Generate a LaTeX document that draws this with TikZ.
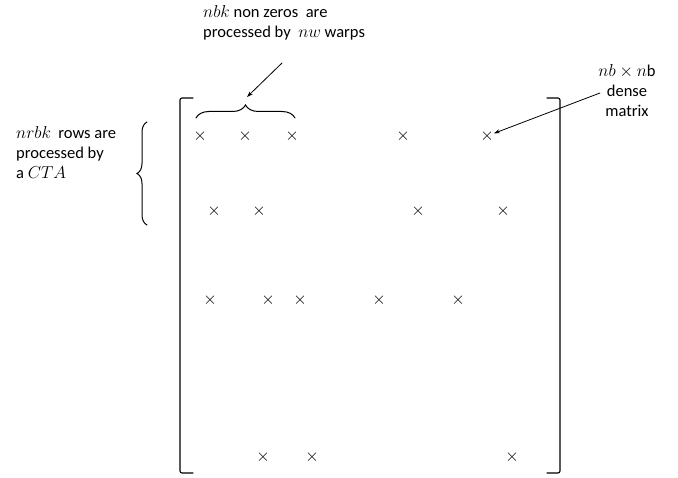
\documentclass[tikz,border=0pt]{standalone}
\usepackage{fontspec}
\setmainfont{Carlito}
\usetikzlibrary{arrows.meta,decorations.pathreplacing}
\begin{document}
\begin{tikzpicture}[x=1pt, y=1pt, >={Stealth[length=6pt,width=4pt]}, line cap=round,
  lbl/.style={font=\fontsize{16.5}{20}\selectfont, inner sep=0pt},
  nz/.style={font=\fontsize{16.5}{20}\selectfont, inner sep=0pt}]
  \useasboundingbox (0,0) rectangle (678,-478);
  % matrix brackets
  \draw[line width=1.1pt, rounded corners=2pt] (193,-98) -- (180,-98) -- (180,-473) -- (193,-473);
  \draw[line width=1.1pt, rounded corners=2pt] (547,-98) -- (560,-98) -- (560,-473) -- (547,-473);
  % non zeros
  \foreach \x/\y/\n in {200/136/z11, 245/136/z12, 292/136/z13, 403/136/z14, 487/136/z15,
                        214/211/z21, 259/211/z22, 418/211/z23, 503/211/z24,
                        210/300/z31, 268/300/z32, 300/300/z33, 379/300/z34, 458/300/z35,
                        263/457/z41, 312/457/z42, 512/457/z43}
    \node[nz] (\n) at (\x,-\y) {$\times$};
  % warps over the non zeros of a row
  \draw[line width=1pt, decorate, decoration={brace, amplitude=13pt}] (196,-118) -- (295,-118);
  \node[lbl, anchor=base west, align=left] (warps) at (203,-38)
    {$nbk$ non zeros\ \ are\\processed by\ \ $nw$ warps};
  \coordinate (warpsfrom) at (282,-63);
  \coordinate (bracetip) at (247,-97);
  \draw[->, line width=0.8pt] (warpsfrom) -- (bracetip);
  % rows of a CTA
  \draw[line width=1pt, decorate, decoration={brace, amplitude=10pt}] (147,-225) -- (147,-122);
  \node[lbl, anchor=base west, align=left] (cta) at (16,-179)
    {$nrbk$\ \ rows are\\processed by\\a $CTA$};
  % dense matrix
  \node[lbl, anchor=base, align=center] (dense) at (627,-117)
    {$nb \times n$b\\dense\\matrix};
  \coordinate (densefrom) at (600,-93);
  \draw[->, line width=0.8pt] (densefrom) -- (z15);
\end{tikzpicture}
\end{document}
